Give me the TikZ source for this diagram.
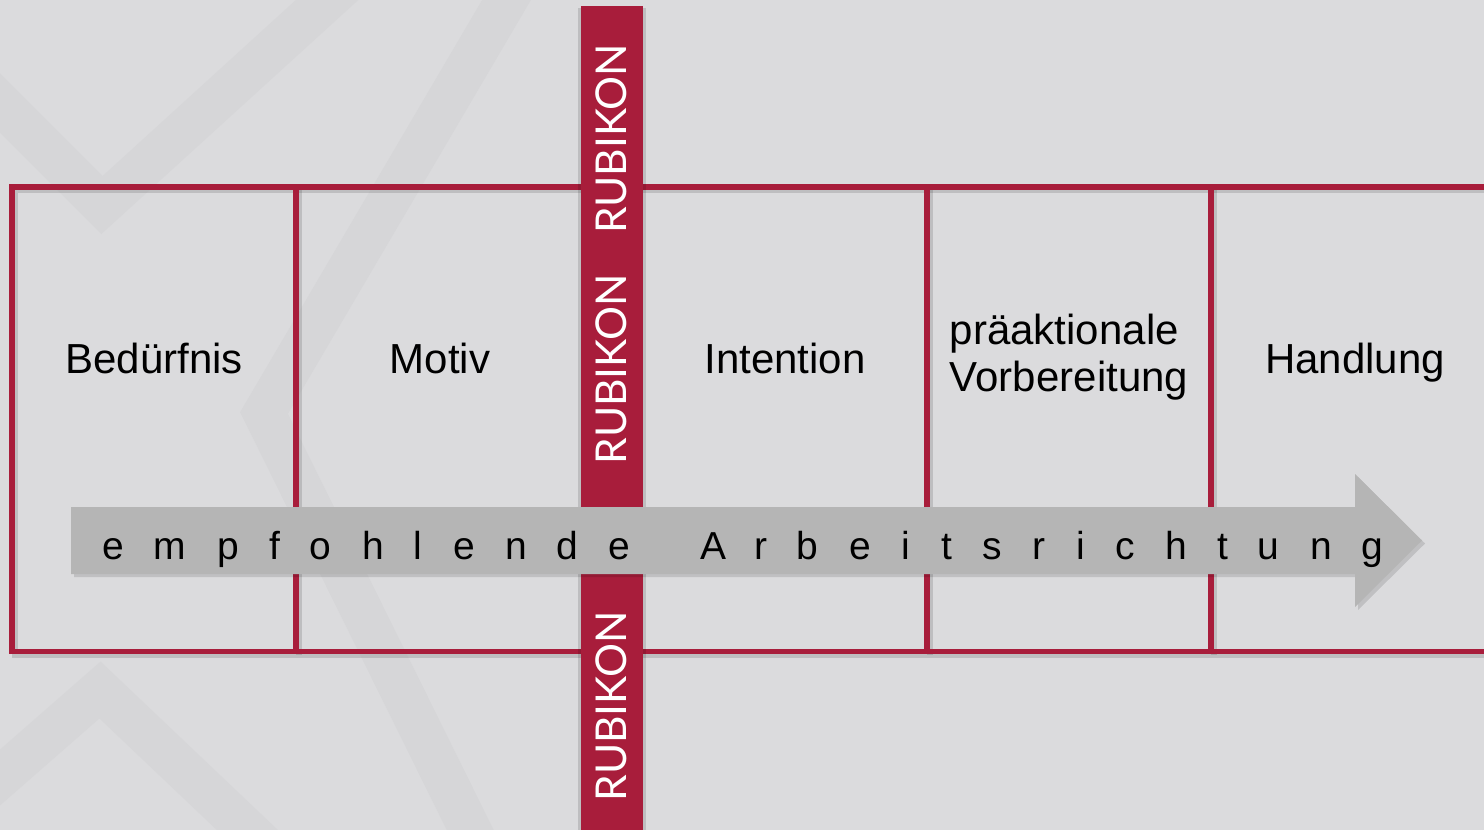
\documentclass[tikz,border=0pt]{standalone}
\usepackage{fontspec}
\setmainfont{Liberation Sans}
\newfontfamily\rubfont{Lato}
\definecolor{rubred}{RGB}{168,29,59}
\definecolor{bgc}{RGB}{219,219,221}
\definecolor{stripe}{RGB}{214,214,216}
\definecolor{arrowgray}{RGB}{181,181,181}
\begin{document}
\begin{tikzpicture}[x=1pt,y=-1pt,
  cell/.style={draw=rubred, line width=5.5pt, minimum height=464.5pt, inner sep=0pt, outer sep=0pt},
  cellshadow/.style={draw=black, opacity=0.13, line width=6pt},
  lbl/.style={font=\fontsize{42}{47}\selectfont, text=black, inner sep=0pt, anchor=base, align=center},
  rub/.style={font=\rubfont\fontsize{42.5}{42}\selectfont, text=white, rotate=90, inner sep=0pt},
  ltr/.style={font=\fontsize{39}{39}\selectfont, text=black, inner sep=0pt, anchor=base},
  band/.style={draw=stripe, line width=42pt, line join=miter}
]
\fill[bgc] (0,0) rectangle (1484,830);
\useasboundingbox (0,0) rectangle (1484,830);
% background stripes
\draw[band] (-60,43) -- (102,205) -- (360,-30);
\draw[band] (530,-40) -- (264,413) -- (490,870);
\draw[band] (-60,830) -- (100,690) -- (300,880);
% cell shadows
\draw[cellshadow] (14.5,190) rectangle (1520,654.5);
\draw[cellshadow] (298.5,190) -- (298.5,654.5);
\draw[cellshadow] (929.5,190) -- (929.5,654.5);
\draw[cellshadow] (1213.5,190) -- (1213.5,654.5);
% cells
\node[cell, minimum width=284pt] (c1) at (154,419.25) {};
\node[cell, minimum width=316pt] (c2) at (454,419.25) {};
\node[cell, minimum width=315pt] (c3) at (769.5,419.25) {};
\node[cell, minimum width=284pt] (c4) at (1069,419.25) {};
\node[cell, minimum width=300pt] (c5) at (1361,419.25) {};
% labels
\node[lbl] (t1) at (154,373) {Bedürfnis};
\node[lbl] (t2) at (440,373) {Motiv};
\node[lbl] (t3) at (785,373) {Intention};
\node[lbl, align=left] (t4) at (1069,391) {präaktionale\\Vorbereitung};
\node[lbl] (t5) at (1355,373) {Handlung};
% rubikon bar
\fill[black, opacity=0.13] (578,8) rectangle (646,830);
\node[fill=rubred, minimum width=62pt, minimum height=830pt, inner sep=0pt, outer sep=0pt, anchor=north] (bar) at (612,6) {};
\node[rub] (r1) at (611,139) {RUBIKON};
\node[rub] (r2) at (611,369.5) {RUBIKON};
\node[rub] (r3) at (611,706.5) {RUBIKON};
% arrow
\fill[black, opacity=0.12] (74,510) -- (1358,510) -- (1358,477) -- (1425,543.5) -- (1358,610) -- (1358,577) -- (74,577) -- cycle;
\fill[arrowgray] (71,507) -- (1355,507) -- (1355,474) -- (1422,540.5) -- (1355,607) -- (1355,574) -- (71,574) -- cycle;
\foreach \x/\c [count=\i] in {113/e,170/m,228/p,275/f,320.5/o,373/h,418/l,464/e,516/n,567/d,619/e,713.5/A,761/r,807/b,860/e,906/i,947/t,992/s,1039/r,1080.5/i,1125/c,1176/h,1223/t,1268/u,1321/n,1372/g}
  \node[ltr] (l\i) at (\x,559) {\c};
\end{tikzpicture}
\end{document}
